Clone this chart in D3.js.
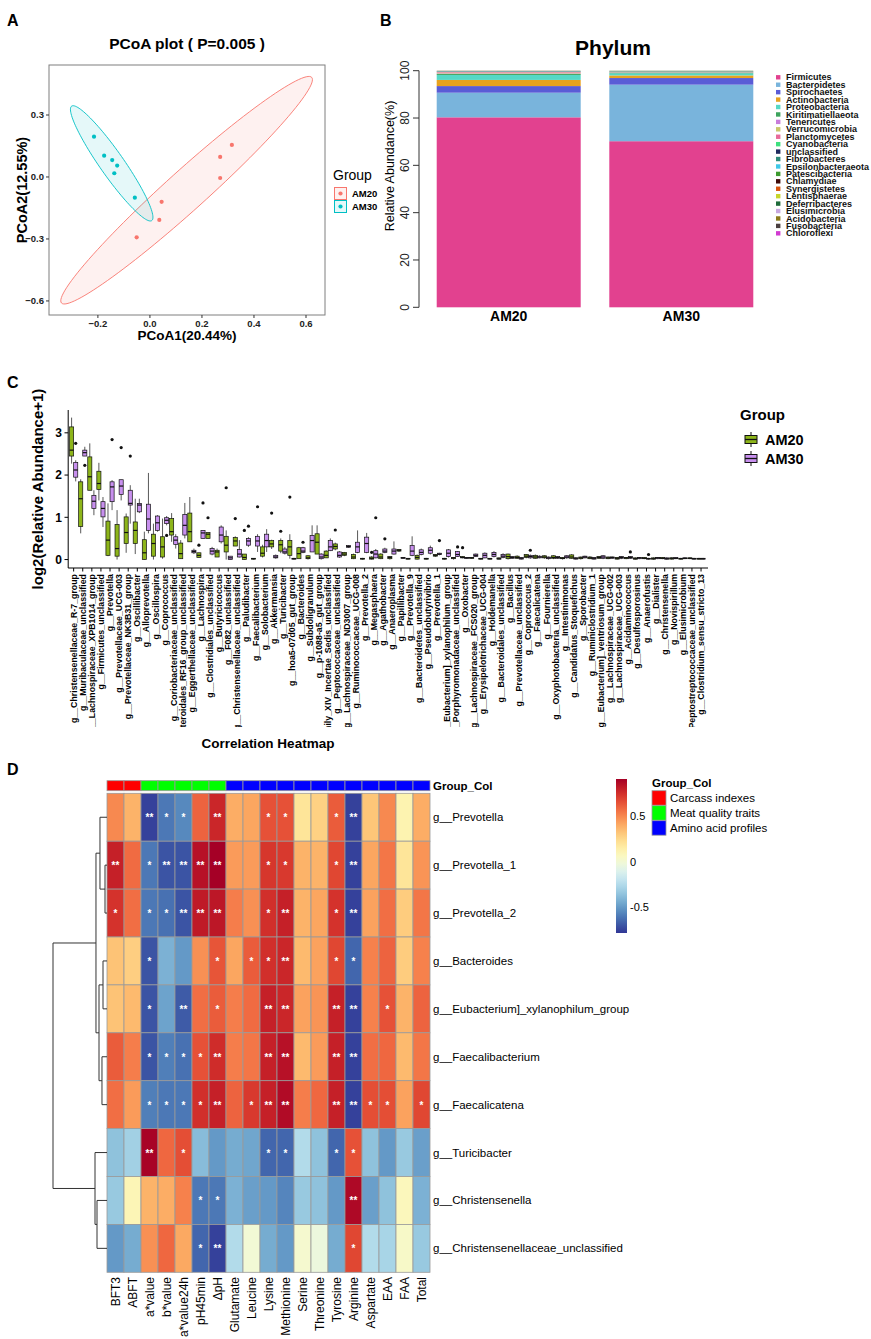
<!DOCTYPE html>
<html><head><meta charset="utf-8">
<script src="https://cdn.jsdelivr.net/npm/d3@7"></script>
<style>body{margin:0;background:#fff} svg{display:block;font-family:"Liberation Sans",Arial,Helvetica,sans-serif}</style>
</head><body><svg id="fig" width="871" height="1339"></svg>
<script>
// ---------------- Panel A data ----------------
const pcoaGroups = ["AM20", "AM30"];
const pcoa1AM20 = [0.315, 0.27, 0.27, 0.045, 0.036, -0.051];
const pcoa2AM20 = [0.155, 0.097, -0.005, -0.12, -0.208, -0.292];
const pcoa1AM30 = [-0.215, -0.176, -0.145, -0.126, -0.137, -0.058];
const pcoa2AM30 = [0.195, 0.103, 0.082, 0.055, 0.018, -0.100];
// ellipse: centre + two conjugate semi-axis vectors (data units)
const ellipseAM20 = [0.141, -0.064, 0.481, 0.546, 0.0515, -0.0716];
const ellipseAM30 = [-0.147, 0.066, 0.154, -0.277, 0.0378, 0.0332];
const pcoaXTicks = [-0.2, 0.0, 0.2, 0.4, 0.6];
const pcoaYTicks = [-0.6, -0.3, 0.0, 0.3];

// ---------------- Panel B data ----------------
const phyla = ["Firmicutes","Bacteroidetes","Spirochaetes","Actinobacteria","Proteobacteria","Kiritimatiellaeota","Tenericutes","Verrucomicrobia","Planctomycetes","Cyanobacteria","unclassified","Fibrobacteres","Epsilonbacteraeota","Patescibacteria","Chlamydiae","Synergistetes","Lentisphaerae","Deferribacteres","Elusimicrobia","Acidobacteria","Fusobacteria","Chloroflexi"];
const phylumColors = ["#E2418F","#79B4DC","#5A5CD6","#E8A21E","#55D8C6","#3DA35D","#C77CDB","#C8C86A","#E86A9A","#3EE07E","#1F2A5E","#2E8B7A","#3EC8E8","#3C9A2E","#3D0A0A","#D9540E","#C8D62A","#1E6B3A","#C8A8E0","#8B7A1A","#4A3F3F","#D13AD1"];
const phylumSamples = ["AM20", "AM30"];
const phylumAM20 = [80.3,10.4,2.8,2.6,2.1,0.4,0.25,0.35,0.35,0.1,0.1,0.08,0.05,0.03,0.02,0.02,0.01,0.01,0.01,0.01,0.01,0.01];
const phylumAM30 = [70.2,23.9,2.8,1.1,0.9,0.3,0.15,0.2,0.1,0.08,0.08,0.06,0.04,0.03,0.02,0.02,0.01,0.01,0.01,0.01,0.01,0.01];
const phylumTicks = [0, 20, 40, 60, 80, 100];

// ---------------- Panel C data ----------------
const genera = ["g__Christensenellaceae_R-7_group","g__Muribaculaceae_unclassified","g__Lachnospiraceae_XPB1014_group","g__Firmicutes_unclassified","g__Prevotella","g__Prevotellaceae_UCG-003","g__Prevotellaceae_NK3B31_group","g__Oscillibacter","g__Alloprevotella","g__Oscillospira","g__Coprococcus","g__Coriobacteriaceae_unclassified","g__Bacteroidales_RF16_group_unclassified","g__Eggerthellaceae_unclassified","g__Lachnospira","g__Clostridiales_unclassified","g__Butyricicoccus","g__F082_unclassified","g__Christensenellaceae_unclassified","g__Paludibacter","g__Faecalibacterium","g__Solobacterium","g__Akkermansia","g__Turicibacter","g__hoa5-07d05_gut_group","g__Bacteroides","g__Subdoligranulum","g__p-1088-a5_gut_group","g__Family_XIV_Incertae_Sedis_unclassified","g__Peptococcaceae_unclassified","g__Lachnospiraceae_ND3007_group","g__Ruminococcaceae_UCG-008","g__Prevotella_2","g__Megasphaera","g__Agathobacter","g__Anaeroplasma","g__Papillibacter","g__Prevotella_9","g__Bacteroidetes_unclassified","g__Pseudobutyrivibrio","g__Prevotella_1","g__Eubacterium]_xylanophilum_group","g__Porphyromonadaceae_unclassified","g__Oxobacter","g__Lachnospiraceae_FCS020_group","g__Erysipelotrichaceae_UCG-004","g__Holdemanella","g__Bacteroidales_unclassified","g__Bacillus","g__Prevotellaceae_unclassified","g__Coprococcus_2","g__Faecalicatena","g__Fournierella","g__Oxyphotobacteria_unclassified","g__Intestinimonas","g__Candidatus_Stoquefichus","g__Sporobacter","g__Ruminiclostridium_1","g__Eubacterium]_ventriosum_group","g__Lachnospiraceae_UCG-002","g__Lachnospiraceae_UCG-003","g__Acidaminococcus","g__Desulfosporosinus","g__Anaerofustis","g__Dialister","g__Christensenella","g__Novispirillum","g__Elusimicrobium","g__Peptostreptococcaceae_unclassified","g__Clostridium_sensu_stricto_13"];
const boxGroups = ["AM20", "AM30"];
// [lower whisker, Q1, median, Q3, upper whisker]
const am20Stats = [
[2.27,2.45,2.59,3.14,3.36],[0.62,0.78,1.44,1.84,1.9],[1.64,1.64,1.96,2.43,2.75],[1.4,1.66,1.8,2.09,2.29],[0.08,0.1,0.46,0.91,1.33],
[0,0.08,0.26,0.83,1.17],[0.16,0.38,0.64,1.01,1.09],[0.13,0.38,0.69,0.89,1.44],[0,0,0.16,0.47,0.66],[0,0.08,0.38,0.6,0.85],
[0.02,0.06,0.3,0.54,0.97],[0.42,0.58,0.66,0.97,1.1],[0.02,0.02,0.14,0.39,0.46],[0.42,0.42,0.66,1.1,1.48],[0.05,0.05,0.1,0.16,0.16],
[0.5,0.5,0.6,0.64,0.64],[0.06,0.06,0.18,0.22,0.26],[0,0.18,0.34,0.55,0.69],[0.32,0.32,0.44,0.52,0.55],[0,0,0.05,0.13,0.13],
[0,0.01,0.02,0.03,0.03],[0.05,0.08,0.15,0.3,0.35],[0.25,0.3,0.37,0.45,0.47],[0.15,0.2,0.35,0.45,0.5],[0.02,0.1,0.3,0.45,0.6],
[0.02,0.02,0.14,0.28,0.3],[0,0.02,0.04,0.09,0.1],[0.13,0.13,0.41,0.61,0.81],[0.04,0.04,0.1,0.2,0.22],[0.22,0.25,0.31,0.37,0.4],
[0.08,0.1,0.13,0.17,0.18],[0.01,0.02,0.06,0.12,0.14],[0,0.01,0.02,0.03,0.04],[0,0.01,0.03,0.06,0.08],[0.01,0.02,0.06,0.13,0.15],
[0,0.02,0.05,0.07,0.08],[0.18,0.2,0.22,0.24,0.25],[0,0.01,0.02,0.03,0.03],[0,0.01,0.05,0.1,0.12],[0,0.01,0.02,0.03,0.04],
[0.06,0.08,0.1,0.12,0.13],[0,0.01,0.02,0.03,0.04],[0,0.02,0.04,0.05,0.06],[0.03,0.04,0.05,0.07,0.08],[0.02,0.03,0.04,0.05,0.06],
[0,0.01,0.02,0.03,0.03],[0,0.01,0.02,0.03,0.03],[0,0.01,0.02,0.04,0.05],[0,0.02,0.07,0.13,0.14],[0.02,0.03,0.05,0.08,0.1],
[0.03,0.05,0.08,0.12,0.13],[0.02,0.03,0.06,0.1,0.12],[0.02,0.04,0.06,0.09,0.1],[0.01,0.03,0.05,0.09,0.1],[0,0.02,0.03,0.05,0.06],
[0.02,0.03,0.06,0.11,0.13],[0,0.02,0.04,0.06,0.07],[0.01,0.02,0.04,0.06,0.08],[0.02,0.03,0.05,0.07,0.08],[0.01,0.02,0.04,0.06,0.07],
[0,0.01,0.03,0.05,0.06],[0.01,0.02,0.04,0.05,0.06],[0,0.01,0.02,0.04,0.05],[0.01,0.02,0.03,0.05,0.06],[0,0.01,0.02,0.04,0.05],
[0.01,0.02,0.03,0.05,0.06],[0,0.01,0.03,0.04,0.05],[0,0.01,0.02,0.03,0.04],[0.01,0.02,0.03,0.04,0.05],[0,0.01,0.02,0.03,0.04]];
const am20Outliers = [[],[],[],[],[],[],[],[],[],[],[],[],[],[],[0.34],[0.99],[],[1.7],[0.97],[0.69],[],[],[1.1],[0.67],[1.48],
[],[],[],[],[0.7],[],[],[],[0.17],[],[],[],[],[],[],[],[],[],[0.28],[],[],[],[],[],[],[],[],[],[],[],[],[],[],[],[],[],[],[],[],[],[],[],[],[],[]];
const am30Stats = [
[1.85,1.95,2.12,2.3,2.35],[2.45,2.45,2.53,2.59,2.67],[1.05,1.21,1.38,1.52,1.64],[0.77,1.01,1.21,1.37,1.48],[1.17,1.37,1.72,1.84,1.88],
[1.4,1.54,1.74,1.89,1.89],[0.85,1.29,1.33,1.64,1.76],[1.1,1.13,1.29,1.33,1.44],[0.62,0.69,0.96,1.31,2.05],[0.66,0.69,0.87,1.03,1.05],
[0.81,0.85,0.93,0.99,1.03],[0.26,0.36,0.46,0.54,0.6],[0.5,0.58,0.81,1.07,1.34],[0.13,0.16,0.19,0.22,0.26],[0.5,0.5,0.63,0.69,0.69],
[0.1,0.13,0.2,0.26,0.3],[0.38,0.42,0.58,0.77,0.81],[0,0,0.04,0.08,0.08],[0.05,0.06,0.13,0.24,0.46],[0.3,0.34,0.44,0.5,0.53],
[0.18,0.32,0.44,0.55,0.6],[0.18,0.3,0.45,0.6,0.72],[0.02,0.04,0.06,0.1,0.12],[0.12,0.15,0.18,0.25,0.3],[0,0.01,0.02,0.03,0.04],
[0.15,0.17,0.2,0.28,0.3],[0.18,0.18,0.45,0.57,0.81],[0,0.02,0.06,0.13,0.15],[0.2,0.21,0.3,0.45,0.5],[0.04,0.06,0.1,0.18,0.2],
[0.28,0.29,0.31,0.33,0.34],[0.15,0.17,0.3,0.41,0.69],[0.15,0.17,0.38,0.53,0.63],[0.03,0.04,0.13,0.21,0.25],[0.15,0.17,0.2,0.25,0.28],
[0.12,0.13,0.2,0.25,0.43],[0.02,0.03,0.04,0.05,0.06],[0.08,0.1,0.2,0.33,0.55],[0.1,0.12,0.17,0.23,0.26],[0.12,0.15,0.22,0.28,0.33],
[0.1,0.12,0.13,0.15,0.16],[0.05,0.07,0.15,0.23,0.25],[0.06,0.07,0.12,0.19,0.2],[0.02,0.03,0.04,0.05,0.06],[0.06,0.07,0.1,0.13,0.14],
[0.03,0.04,0.1,0.15,0.17],[0.05,0.07,0.12,0.17,0.2],[0.03,0.05,0.08,0.12,0.15],[0.02,0.03,0.05,0.07,0.08],[0,0.01,0.03,0.05,0.06],
[0.02,0.04,0.07,0.1,0.12],[0.03,0.04,0.06,0.08,0.1],[0,0.02,0.04,0.06,0.07],[0.02,0.03,0.05,0.07,0.08],[0.02,0.04,0.06,0.09,0.1],
[0,0.01,0.03,0.04,0.05],[0.03,0.04,0.06,0.08,0.09],[0,0.01,0.03,0.05,0.06],[0.01,0.03,0.06,0.09,0.1],[0.02,0.03,0.05,0.06,0.07],
[0.01,0.03,0.05,0.07,0.08],[0.02,0.03,0.05,0.07,0.08],[0.01,0.02,0.04,0.05,0.06],[0,0.01,0.02,0.03,0.04],[0.01,0.02,0.04,0.05,0.06],
[0,0.01,0.02,0.04,0.05],[0.01,0.02,0.03,0.05,0.06],[0.01,0.02,0.03,0.04,0.05],[0,0.01,0.02,0.03,0.04],[0,0.01,0.02,0.03,0.04]];
const am30Outliers = [[2.75],[2.23],[],[],[2.84],[2.65],[2.45],[],[],[],[0.57],[],[],[],[1.34],[],[],[],[],[0.79],[1.25],[],[],[],[],
[0.41],[],[],[],[],[],[],[],[0.99],[0.49],[],[],[],[],[],[0.45],[],[0.3],[],[],[],[],[],[],[],[0.22],[],[],[],[],[],[],[],[],[],[],[0.18],[],[0.12],[],[],[],[],[],[]];
const log2Ticks = [0, 1, 2, 3];

// ---------------- Panel D data ----------------
const heatRows = ["g__Prevotella","g__Prevotella_1","g__Prevotella_2","g__Bacteroides","g__Eubacterium]_xylanophilum_group","g__Faecalibacterium","g__Faecalicatena","g__Turicibacter","g__Christensenella","g__Christensenellaceae_unclassified"];
const heatCols = ["BFT3","ABFT","a*value","b*value","a*value24h","pH45min","ΔpH","Glutamate","Leucine","Lysine","Methionine","Serine","Threonine","Tyrosine","Arginine","Aspartate","EAA","FAA","Total"];
const colGroupNames = ["Carcass indexes","Meat quality traits","Amino acid profiles"];
const colGroupColors = ["#FF0000","#00FF00","#0000FF"];
const colGroup = [0,0,1,1,1,1,1,2,2,2,2,2,2,2,2,2,2,2,2];
const corrValues = [
[0.50,0.38,-0.75,-0.60,-0.55,0.60,0.78,0.40,0.42,0.65,0.65,0.20,0.28,0.62,-0.75,0.32,0.50,0.12,0.40],
[0.80,0.58,-0.60,-0.70,-0.70,0.85,0.91,0.45,0.45,0.73,0.72,0.38,0.38,0.68,-0.75,0.42,0.55,0.20,0.47],
[0.74,0.57,-0.60,-0.62,-0.70,0.82,0.83,0.53,0.48,0.75,0.80,0.38,0.42,0.74,-0.75,0.43,0.57,0.30,0.55],
[0.33,0.29,-0.70,-0.42,-0.50,0.48,0.64,0.42,0.62,0.75,0.78,0.36,0.43,0.68,-0.65,0.52,0.60,0.30,0.52],
[0.33,0.36,-0.70,-0.47,-0.68,0.57,0.62,0.53,0.58,0.80,0.78,0.43,0.47,0.80,-0.75,0.52,0.65,0.38,0.60],
[0.62,0.53,-0.70,-0.58,-0.62,0.65,0.76,0.53,0.55,0.80,0.85,0.36,0.45,0.80,-0.75,0.57,0.59,0.36,0.55],
[0.57,0.45,-0.58,-0.60,-0.60,0.75,0.80,0.60,0.72,0.80,0.87,0.53,0.59,0.80,-0.75,0.66,0.66,0.43,0.68],
[-0.36,-0.30,0.90,0.59,0.66,-0.38,-0.50,-0.44,-0.46,-0.65,-0.65,-0.25,-0.36,-0.65,0.65,-0.36,-0.50,-0.33,-0.48],
[-0.33,0.10,0.38,0.40,0.52,-0.60,-0.60,-0.42,-0.48,-0.50,-0.56,-0.33,-0.36,-0.50,0.88,-0.48,-0.36,0.08,-0.42],
[-0.50,-0.44,0.48,0.59,0.41,-0.65,-0.75,-0.25,0.00,-0.44,-0.50,0.02,-0.03,-0.44,0.68,-0.25,-0.28,0.04,-0.33]];
const corrStars = [
["","","**","*","*","","**","","","*","*","","","*","**","","","",""],
["**","","*","**","**","**","**","","","*","*","","","*","**","","","",""],
["*","","*","*","**","**","**","","","*","**","","","*","**","","","",""],
["","","*","","","","*","","*","*","**","","","*","*","","","",""],
["","","*","","**","","*","","","**","**","","","**","**","","*","",""],
["","","*","*","*","*","**","","","**","**","","","**","**","","","",""],
["","","*","*","*","*","**","","*","**","**","","","**","**","*","*","","*"],
["","","**","","*","","","","","*","*","","","*","*","","","",""],
["","","","","","*","*","","","","","","","","**","","","",""],
["","","","","","*","**","","","","","","","","*","","","",""]];
// hclust-style merges: negative = leaf (1-based), positive = earlier merge; last = height
const rowMerges = [[-2,-3,0.037],[-1,1,0.13],[-4,-5,0.074],[-6,-7,0.093],[3,4,0.148],[2,5,0.204],[-9,-10,0.185],[-8,7,0.222],[6,8,1.0]];
const corrRange = [-0.78, 0.91];
const corrLegendTicks = [-0.5, 0, 0.5];

// =================================================
const svg = d3.select("#fig");
const FONT = '"Liberation Sans",Arial,sans-serif';
function txt(g, x, y, s, opt = {}) {
  const t = g.append("text").attr("x", x).attr("y", y).text(s)
    .attr("font-size", opt.size || 12).attr("fill", opt.fill || "#000")
    .attr("font-weight", opt.bold ? "bold" : "normal")
    .attr("text-anchor", opt.anchor || "start");
  if (opt.rot) t.attr("transform", `rotate(${opt.rot},${x},${y})`);
  if (opt.dy) t.attr("dy", opt.dy);
  return t;
}
svg.append("rect").attr("width", 871).attr("height", 1339).attr("fill", "#fff");

// panel letters
txt(svg, 7, 26, "A", {size: 16, bold: true});
txt(svg, 380, 26, "B", {size: 16, bold: true});
txt(svg, 7, 388, "C", {size: 16, bold: true});
txt(svg, 7, 775, "D", {size: 16, bold: true});

// ---------------- Panel A ----------------
{
  const g = svg.append("g");
  const x = d3.scaleLinear().domain([-0.388, 0.673]).range([49, 325]);
  const y = d3.scaleLinear().domain([-0.668, 0.542]).range([315, 65]);
  const cols = {AM20: "#F8766D", AM30: "#00BFC4"};
  const ell = {AM20: ellipseAM20, AM30: ellipseAM30};
  txt(g, 187, 49, "PCoA plot ( P=0.005 )", {size: 15.5, bold: true, anchor: "middle"});
  pcoaGroups.forEach(gr => {
    const e = ell[gr];
    const pts = d3.range(0, 361, 3).map(a => {
      const t = a * Math.PI / 180;
      return [x(e[0] + e[2] * Math.cos(t) + e[4] * Math.sin(t)), y(e[1] + e[3] * Math.cos(t) + e[5] * Math.sin(t))];
    });
    g.append("path").attr("d", d3.line()(pts) + "Z").attr("fill", cols[gr]).attr("fill-opacity", 0.1)
      .attr("stroke", cols[gr]).attr("stroke-width", 0.9);
  });
  const pts = [
    ...pcoa1AM20.map((v, i) => ({g: "AM20", x: v, y: pcoa2AM20[i]})),
    ...pcoa1AM30.map((v, i) => ({g: "AM30", x: v, y: pcoa2AM30[i]}))];
  g.selectAll("circle.p").data(pts).join("circle").attr("cx", d => x(d.x)).attr("cy", d => y(d.y))
    .attr("r", 2.1).attr("fill", d => cols[d.g]);
  g.append("rect").attr("x", 49).attr("y", 65).attr("width", 276).attr("height", 250)
    .attr("fill", "none").attr("stroke", "#7f7f7f").attr("stroke-width", 1);
  pcoaXTicks.forEach(v => {
    g.append("line").attr("x1", x(v)).attr("x2", x(v)).attr("y1", 315).attr("y2", 318).attr("stroke", "#333");
    txt(g, x(v), 327, d3.format(".1f")(v), {size: 9.5, bold: true, anchor: "middle", fill: "#222"});
  });
  pcoaYTicks.forEach(v => {
    g.append("line").attr("x1", 46).attr("x2", 49).attr("y1", y(v)).attr("y2", y(v)).attr("stroke", "#333");
    txt(g, 44, y(v), d3.format(".1f")(v), {size: 9.5, bold: true, anchor: "end", dy: "0.35em", fill: "#222"});
  });
  txt(g, 187, 340, "PCoA1(20.44%)", {size: 13.5, bold: true, anchor: "middle"});
  txt(g, 27, 190, "PCoA2(12.55%)", {size: 14.5, bold: true, anchor: "middle", rot: -90});
  // legend
  txt(g, 333, 180, "Group", {size: 14});
  pcoaGroups.forEach((gr, i) => {
    const yy = 187 + i * 13;
    g.append("rect").attr("x", 334.5).attr("y", yy + 0.5).attr("width", 12).attr("height", 12)
      .attr("fill", cols[gr]).attr("fill-opacity", 0.1).attr("stroke", cols[gr]);
    g.append("circle").attr("cx", 340.5).attr("cy", yy + 6.5).attr("r", 2.1).attr("fill", cols[gr]);
    txt(g, 352, yy + 6.5, gr, {size: 9.5, bold: true, dy: "0.35em"});
  });
}

// ---------------- Panel B ----------------
{
  const g = svg.append("g");
  const y = d3.scaleLinear().domain([0, 100]).range([307.3, 70.7]);
  const x = d3.scaleBand().domain(phylumSamples).range([422.4, 767.6]).paddingInner(0.1657).paddingOuter(0.0829);
  const color = d3.scaleOrdinal().domain(phyla).range(phylumColors);
  txt(g, 613, 55, "Phylum", {size: 21, bold: true, anchor: "middle"});
  const series = {AM20: phylumAM20, AM30: phylumAM30};
  phylumSamples.forEach(s => {
    let cum = 0;
    series[s].forEach((v, i) => {
      const y0 = cum, y1 = Math.min(100, cum + v);
      cum += v;
      g.append("rect").attr("x", x(s)).attr("width", x.bandwidth())
        .attr("y", y(y1)).attr("height", Math.max(0, y(y0) - y(y1)))
        .attr("fill", color(phyla[i]));
    });
    txt(g, x(s) + x.bandwidth() / 2, 321, s, {size: 14, bold: true, anchor: "middle"});
  });
  g.append("line").attr("x1", 419).attr("x2", 419).attr("y1", y(0)).attr("y2", y(100)).attr("stroke", "#333");
  phylumTicks.forEach(v => {
    g.append("line").attr("x1", 413).attr("x2", 419).attr("y1", y(v)).attr("y2", y(v)).attr("stroke", "#333");
    txt(g, 409, y(v), String(v), {size: 12, anchor: "middle", rot: -90, fill: "#222"});
  });
  txt(g, 394, 166, "Relative Abundance(%)", {size: 12.5, anchor: "middle", rot: -90});
  phyla.forEach((p, i) => {
    const yy = 77.3 + i * 7.43;
    g.append("rect").attr("x", 776).attr("y", yy - 2.2).attr("width", 4.4).attr("height", 4.4).attr("fill", color(p));
    txt(g, 786, yy, p, {size: 9, bold: true, dy: "0.35em", fill: "#111"});
  });
}

// ---------------- Panel C ----------------
{
  const g = svg.append("g");
  const x = d3.scalePoint().domain(genera).range([68.2, 706.5]).padding(0.6);
  const y = d3.scaleLinear().domain([-0.2, 3.54]).range([568, 410]);
  const fills = {AM20: "#8DB51A", AM30: "#C890EE"};
  const off = {AM20: -2.05, AM30: 2.05};
  const bw = 4.1;
  const stats = {AM20: am20Stats, AM30: am30Stats};
  const outs = {AM20: am20Outliers, AM30: am30Outliers};
  genera.forEach((gn, i) => {
    boxGroups.forEach(gr => {
      const s = stats[gr][i];
      const cx = x(gn) + off[gr];
      g.append("line").attr("x1", cx).attr("x2", cx).attr("y1", y(s[0])).attr("y2", y(s[4])).attr("stroke", "#111").attr("stroke-width", 0.7);
      g.append("rect").attr("x", cx - bw / 2).attr("width", bw).attr("y", y(s[3]))
        .attr("height", Math.max(0.8, y(s[1]) - y(s[3]))).attr("fill", fills[gr]).attr("stroke", "#111").attr("stroke-width", 0.7);
      g.append("line").attr("x1", cx - bw / 2).attr("x2", cx + bw / 2).attr("y1", y(s[2])).attr("y2", y(s[2])).attr("stroke", "#111").attr("stroke-width", 1.2);
      outs[gr][i].forEach(o => g.append("circle").attr("cx", cx).attr("cy", y(o)).attr("r", 1.6).attr("fill", "#111"));
    });
  });
  g.append("line").attr("x1", 68.2).attr("x2", 68.2).attr("y1", 410).attr("y2", 568).attr("stroke", "#000").attr("stroke-width", 1);
  g.append("line").attr("x1", 68.2).attr("x2", 708).attr("y1", 568).attr("y2", 568).attr("stroke", "#000").attr("stroke-width", 1);
  log2Ticks.forEach(v => {
    g.append("line").attr("x1", 64.5).attr("x2", 68.2).attr("y1", y(v)).attr("y2", y(v)).attr("stroke", "#000");
    txt(g, 62, y(v), String(v), {size: 12, bold: true, anchor: "end", dy: "0.35em"});
  });
  svg.append("clipPath").attr("id", "cclip").append("rect").attr("x", 60).attr("y", 569).attr("width", 660).attr("height", 158);
  const lg = g.append("g").attr("clip-path", "url(#cclip)");
  genera.forEach(gn => {
    g.append("line").attr("x1", x(gn)).attr("x2", x(gn)).attr("y1", 568).attr("y2", 571.5).attr("stroke", "#000");
    txt(lg, x(gn), 574, gn, {size: 8.8, bold: true, anchor: "end", rot: -90, dy: "0.35em"});
  });
  txt(g, 268, 748, "Correlation Heatmap", {size: 13.5, bold: true, anchor: "middle"});
  txt(g, 43, 489, "log2(Relative Abundance+1)", {size: 15, bold: true, anchor: "middle", rot: -90});
  // legend
  txt(g, 740, 420, "Group", {size: 15, bold: true});
  boxGroups.forEach((gr, i) => {
    const ky = 431 + i * 19, kx = 743;
    g.append("line").attr("x1", kx + 8).attr("x2", kx + 8).attr("y1", ky + 1).attr("y2", ky + 16).attr("stroke", "#111");
    g.append("rect").attr("x", kx + 2).attr("y", ky + 4.5).attr("width", 12).attr("height", 8).attr("fill", fills[gr]).attr("stroke", "#111");
    g.append("line").attr("x1", kx + 2).attr("x2", kx + 14).attr("y1", ky + 8.5).attr("y2", ky + 8.5).attr("stroke", "#111").attr("stroke-width", 1.3);
    txt(g, 765, ky + 8.5, gr, {size: 14.5, bold: true, dy: "0.35em"});
  });
}

// ---------------- Panel D ----------------
{
  const g = svg.append("g");
  const x = d3.scaleBand().domain(heatCols).range([107, 430]);
  const y = d3.scaleBand().domain(heatRows).range([793.3, 1272.3]);
  const cnorm = d3.scaleLinear().domain(corrRange).range([1, 0]);
  const color = v => d3.interpolateRdYlBu(cnorm(v));
  // annotation bar
  heatCols.forEach((c, j) => {
    g.append("rect").attr("x", x(c)).attr("y", 780.7).attr("width", x.bandwidth()).attr("height", 10)
      .attr("fill", colGroupColors[colGroup[j]]).attr("stroke", "#9a9a9a").attr("stroke-width", 0.8);
  });
  txt(g, 433, 786, "Group_Col", {size: 11.5, bold: true, dy: "0.35em"});
  heatRows.forEach((r, i) => {
    heatCols.forEach((c, j) => {
      g.append("rect").attr("x", x(c)).attr("y", y(r)).attr("width", x.bandwidth()).attr("height", y.bandwidth())
        .attr("fill", color(corrValues[i][j])).attr("stroke", "#9a9a9a").attr("stroke-width", 0.8);
      if (corrStars[i][j]) txt(g, x(c) + x.bandwidth() / 2, y(r) + y.bandwidth() / 2 + 4, corrStars[i][j], {size: 10, bold: true, anchor: "middle", fill: "#fff"});
    });
    txt(g, 433, y(r) + y.bandwidth() / 2, r, {size: 11.5, dy: "0.35em"});
  });
  heatCols.forEach(c => txt(g, x(c) + x.bandwidth() / 2, 1277, c, {size: 12, anchor: "end", rot: -90, dy: "0.35em"}));
  // dendrogram
  const dx = d3.scaleLinear().domain([0, 1]).range([107, 53]);
  const nodes = [];
  const pos = k => k < 0 ? {x: dx(0), y: y(heatRows[-k - 1]) + y.bandwidth() / 2} : nodes[k - 1];
  rowMerges.forEach(m => {
    const a = pos(m[0]), b = pos(m[1]);
    const nx = dx(m[2]);
    const n = {x: nx, y: (a.y + b.y) / 2};
    nodes.push(n);
    g.append("path").attr("d", `M${a.x},${a.y}H${nx}V${b.y}H${b.x}`).attr("fill", "none").attr("stroke", "#333").attr("stroke-width", 1);
  });
  // colour legend
  const defs = svg.append("defs");
  const grad = defs.append("linearGradient").attr("id", "cbar").attr("x1", 0).attr("x2", 0).attr("y1", 1).attr("y2", 0);
  d3.range(0, 1.0001, 0.05).forEach(t => {
    grad.append("stop").attr("offset", t).attr("stop-color", color(corrRange[0] + t * (corrRange[1] - corrRange[0])));
  });
  const cb = d3.scaleLinear().domain(corrRange).range([933, 779]);
  g.append("rect").attr("x", 616).attr("y", 779).attr("width", 11).attr("height", 154).attr("fill", "url(#cbar)");
  corrLegendTicks.forEach(v => txt(g, 630, cb(v), String(v), {size: 11, dy: "0.35em"}));
  txt(g, 652, 783, "Group_Col", {size: 11.5, bold: true, dy: "0.35em"});
  colGroupNames.forEach((n, i) => {
    g.append("rect").attr("x", 652).attr("y", 790.7 + i * 15).attr("width", 14).attr("height", 14.5)
      .attr("fill", colGroupColors[i]).attr("stroke", "#9a9a9a").attr("stroke-width", 0.8);
    txt(g, 670, 798 + i * 15, n, {size: 11.5, dy: "0.35em"});
  });
}
</script></body></html>
